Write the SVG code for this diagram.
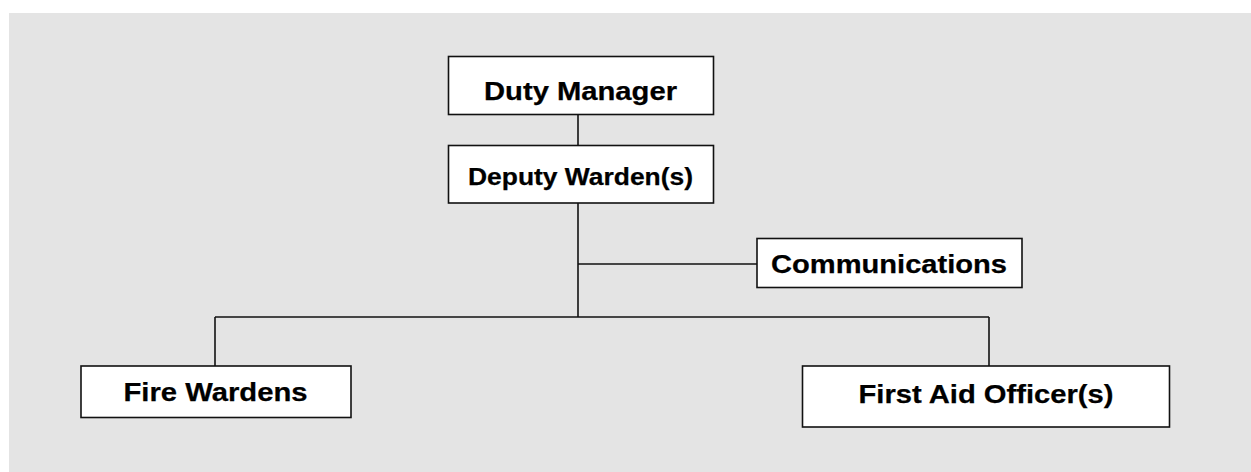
<svg xmlns="http://www.w3.org/2000/svg" width="1251" height="472" viewBox="0 0 1251 472">
<style>
.box{fill:#ffffff;stroke:#111111;stroke-width:1.6}
.lbl{font-family:"Liberation Sans",Arial,sans-serif;font-weight:bold;font-size:26.5px;fill:#000000;stroke:#000000;stroke-width:0.25;text-anchor:middle}
.sm{font-size:24px}
.conn line{stroke:#111111;stroke-width:1.6}
</style>
<rect x="0" y="0" width="1251" height="472" fill="#ffffff"/>
<rect x="9" y="13" width="1242" height="459" fill="#e4e4e4"/>
<g class="conn" id="connectors">
<line x1="578" y1="114" x2="578" y2="145"/>
<line x1="578" y1="203" x2="578" y2="317"/>
<line x1="578" y1="264" x2="757" y2="264"/>
<line x1="215" y1="317" x2="989" y2="317"/>
<line x1="215" y1="317" x2="215" y2="366"/>
<line x1="989" y1="317" x2="989" y2="366"/>
</g>
<g id="duty-manager">
<rect class="box" x="448.5" y="56.5" width="265" height="58"/>
<text class="lbl" x="580.5" y="99.5" textLength="193" lengthAdjust="spacingAndGlyphs">Duty Manager</text>
</g>
<g id="deputy-warden">
<rect class="box" x="448.5" y="145.5" width="265" height="57.5"/>
<text class="lbl sm" x="580.5" y="184.5" textLength="225" lengthAdjust="spacingAndGlyphs">Deputy Warden(s)</text>
</g>
<g id="communications">
<rect class="box" x="757" y="238.5" width="265" height="49"/>
<text class="lbl" x="889" y="272.5" textLength="236" lengthAdjust="spacingAndGlyphs">Communications</text>
</g>
<g id="fire-wardens">
<rect class="box" x="81" y="366" width="270" height="51.5"/>
<text class="lbl" x="215.5" y="401" textLength="184" lengthAdjust="spacingAndGlyphs">Fire Wardens</text>
</g>
<g id="first-aid">
<rect class="box" x="802.5" y="366" width="367" height="61"/>
<text class="lbl" x="986" y="402.5" textLength="255" lengthAdjust="spacingAndGlyphs">First Aid Officer(s)</text>
</g>
</svg>
